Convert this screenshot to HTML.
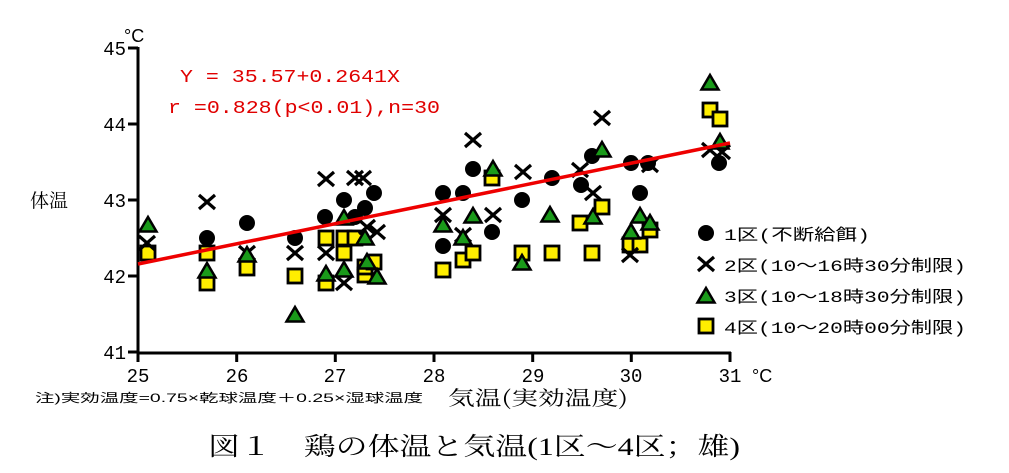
<!DOCTYPE html>
<html><head><meta charset="utf-8"><style>
body{margin:0;background:#fff;}
svg{display:block;}
</style></head><body>
<svg width="1009" height="473" viewBox="0 0 1009 473" xmlns="http://www.w3.org/2000/svg" font-family="Liberation Sans,'Noto Sans CJK JP',sans-serif">
<defs>
<g id="c"><circle r="8" fill="#000"/></g>
<g id="x"><path d="M-8,-7L8,7M-8,7L8,-7" stroke="#000" stroke-width="3.2"/></g>
<g id="t"><path d="M0,-8L8.5,6.5L-8.5,6.5Z" fill="#1a9a1a" stroke="#000" stroke-width="2.5" stroke-linejoin="miter"/></g>
<g id="s"><rect x="-7" y="-7" width="14" height="14" fill="#ffee00" stroke="#000" stroke-width="2.8"/></g>
</defs>
<g stroke="#000" stroke-width="3" fill="none">
<path d="M138,47V353H731"/>
<path d="M128,48H138M128,124H138M128,200H138M128,276H138M128,352H138"/>
<path d="M138,352V362M236.7,352V362M335.3,352V362M434,352V362M532.7,352V362M631.3,352V362M730,352V362"/>
</g>
<g font-size="19" text-anchor="end" font-family="Liberation Mono,monospace">
<text x="126" y="55">45</text><text x="126" y="131">44</text><text x="126" y="207">43</text><text x="126" y="283">42</text><text x="126" y="359">41</text>
</g>
<text x="124" y="42" font-size="18">°C</text>
<text x="30" y="207" font-size="19" font-family="Noto Serif CJK SC,serif">体温</text>
<g font-size="19" text-anchor="middle" font-family="Liberation Mono,monospace">
<text x="138" y="382">25</text><text x="237" y="382">26</text><text x="335" y="382">27</text><text x="434" y="382">28</text><text x="533" y="382">29</text><text x="631" y="382">30</text><text x="730" y="382">31</text>
</g>
<text x="752" y="382" font-size="18">°C</text>
<text x="35" y="402" font-size="12" textLength="388" lengthAdjust="spacingAndGlyphs">注)実効温度=0.75×乾球温度＋0.25×湿球温度</text>
<text x="448" y="405" font-size="20" textLength="180" lengthAdjust="spacingAndGlyphs" font-family="Noto Serif CJK SC,serif">気温(実効温度)</text>
<text x="208" y="455" font-size="25" textLength="532" lengthAdjust="spacingAndGlyphs" font-family="Liberation Serif,'Noto Serif CJK SC',serif">図１　鶏の体温と気温(1区～4区；雄)</text>
<g fill="#e00000" font-family="Liberation Mono,monospace" font-size="18">
<text x="180" y="82" textLength="220" lengthAdjust="spacingAndGlyphs">Y = 35.57+0.2641X</text>
<text x="168" y="113" textLength="272" lengthAdjust="spacingAndGlyphs">r =0.828(p&lt;0.01),n=30</text>
</g>
<g>
<use href="#s" x="148" y="253"/><use href="#s" x="207" y="253"/><use href="#s" x="207" y="283"/><use href="#s" x="247" y="268"/><use href="#s" x="295" y="276"/><use href="#s" x="326" y="238"/><use href="#s" x="326" y="283"/><use href="#s" x="344" y="238"/><use href="#s" x="344" y="253"/><use href="#s" x="355" y="238"/><use href="#s" x="365" y="275"/><use href="#s" x="365" y="267"/><use href="#s" x="374" y="262"/>
<use href="#s" x="443" y="270"/><use href="#s" x="463" y="260"/><use href="#s" x="473" y="253"/><use href="#s" x="492" y="178"/><use href="#s" x="522" y="253"/><use href="#s" x="552" y="253"/><use href="#s" x="592" y="253"/><use href="#s" x="580" y="223"/><use href="#s" x="602" y="207"/><use href="#s" x="630" y="245"/><use href="#s" x="640" y="245"/><use href="#s" x="650" y="230"/><use href="#s" x="710" y="110"/><use href="#s" x="720" y="119"/>
</g>
<g>
<use href="#c" x="207" y="238"/><use href="#c" x="247" y="223"/><use href="#c" x="295" y="238"/><use href="#c" x="325" y="217"/><use href="#c" x="344" y="200"/><use href="#c" x="355" y="217"/><use href="#c" x="365" y="208"/><use href="#c" x="374" y="193"/>
<use href="#c" x="443" y="193"/><use href="#c" x="463" y="193"/><use href="#c" x="473" y="169"/><use href="#c" x="443" y="246"/><use href="#c" x="492" y="232"/><use href="#c" x="522" y="200"/><use href="#c" x="552" y="178"/><use href="#c" x="581" y="185"/><use href="#c" x="592" y="156"/><use href="#c" x="631" y="163"/><use href="#c" x="640" y="193"/><use href="#c" x="648" y="163"/><use href="#c" x="719" y="163"/>
</g>
<g>
<use href="#x" x="147" y="243"/><use href="#x" x="207" y="202"/><use href="#x" x="247" y="253"/><use href="#x" x="295" y="253"/><use href="#x" x="326" y="179"/><use href="#x" x="326" y="253"/><use href="#x" x="344" y="283"/><use href="#x" x="355" y="178"/><use href="#x" x="363" y="178"/><use href="#x" x="367" y="227"/><use href="#x" x="377" y="232"/>
<use href="#x" x="443" y="215"/><use href="#x" x="463" y="235"/><use href="#x" x="473" y="140"/><use href="#x" x="493" y="215"/><use href="#x" x="523" y="172"/><use href="#x" x="580" y="170"/><use href="#x" x="593" y="193"/><use href="#x" x="602" y="118"/><use href="#x" x="630" y="255"/><use href="#x" x="650" y="165"/><use href="#x" x="710" y="150"/><use href="#x" x="722" y="152"/>
</g>
<g>
<use href="#t" x="148" y="225"/><use href="#t" x="207" y="271"/><use href="#t" x="247" y="255"/><use href="#t" x="295" y="315"/><use href="#t" x="326" y="274"/><use href="#t" x="344" y="218"/><use href="#t" x="344" y="270"/><use href="#t" x="365" y="238"/><use href="#t" x="367" y="262"/><use href="#t" x="377" y="277"/>
<use href="#t" x="443" y="225"/><use href="#t" x="463" y="238"/><use href="#t" x="473" y="216"/><use href="#t" x="493" y="169"/><use href="#t" x="522" y="263"/><use href="#t" x="550" y="215"/><use href="#t" x="593" y="217"/><use href="#t" x="602" y="150"/><use href="#t" x="631" y="232"/><use href="#t" x="640" y="216"/><use href="#t" x="650" y="223"/><use href="#t" x="710" y="83"/><use href="#t" x="720" y="142"/>
</g>
<line x1="138" y1="264" x2="730" y2="143" stroke="#ee0000" stroke-width="3.5"/>
<use href="#c" x="706" y="233"/>
<use href="#x" x="706" y="264"/>
<use href="#t" x="706" y="296"/>
<use href="#s" x="706" y="326"/>
<g font-size="16" font-family="Liberation Mono,'Noto Sans CJK JP',monospace">
<text x="724" y="240" textLength="146" lengthAdjust="spacingAndGlyphs">1区(不断給餌)</text>
<text x="724" y="271" textLength="242" lengthAdjust="spacingAndGlyphs">2区(10～16時30分制限)</text>
<text x="724" y="302" textLength="242" lengthAdjust="spacingAndGlyphs">3区(10～18時30分制限)</text>
<text x="724" y="333" textLength="242" lengthAdjust="spacingAndGlyphs">4区(10～20時00分制限)</text>
</g>
</svg>
</body></html>
